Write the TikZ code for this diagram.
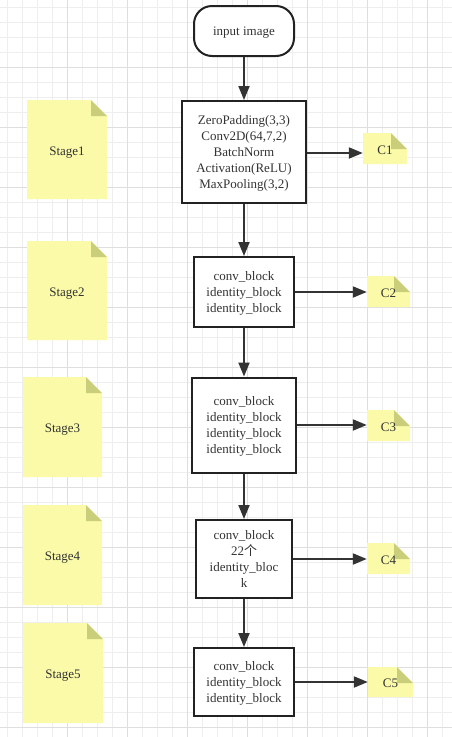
\documentclass[tikz,border=0pt]{standalone}
\usepackage{fontspec}
\setmainfont{Liberation Serif}
\newfontfamily\cjk{Noto Sans CJK SC}
\usetikzlibrary{arrows.meta}

\definecolor{notefill}{RGB}{250,250,168}
\definecolor{notefold}{RGB}{202,206,122}
\definecolor{inkgray}{RGB}{51,51,51}
\definecolor{boxline}{RGB}{34,34,34}
\definecolor{gridminor}{RGB}{238,238,238}
\definecolor{gridmajor}{RGB}{222,222,222}

\tikzset{
  block/.style={draw=boxline,line width=2pt,fill=white,align=center,inner sep=0pt,
    text depth=-3pt,text=inkgray,font=\fontsize{13}{16}\selectfont},
  note/.style={inner sep=0pt,text height=11pt,text depth=0pt,text=inkgray,font=\fontsize{13}{16}\selectfont,
    path picture={
      \fill[notefill] (path picture bounding box.south west) -- (path picture bounding box.north west)
        -- ([xshift=-16pt]path picture bounding box.north east) -- ([yshift=-16pt]path picture bounding box.north east)
        -- (path picture bounding box.south east) -- cycle;
      \fill[notefold] ([xshift=-16pt]path picture bounding box.north east)
        -- ([xshift=-16pt,yshift=-16pt]path picture bounding box.north east)
        -- ([yshift=-16pt]path picture bounding box.north east) -- cycle;
    }},
  flow/.style={draw=inkgray,line width=2pt,-{Triangle[length=14pt,width=11pt]}},
}

\begin{document}
\begin{tikzpicture}[x=1pt,y=-1pt]
\useasboundingbox (0,0) rectangle (452,737);
\fill[white] (0,0) rectangle (452,737);

%---------------------------------------------------
%background grid
\foreach \i in {7,22,...,452} \draw[gridminor,line width=0.8pt] (\i,0) -- (\i,737);
\foreach \j in {7,22,...,737} \draw[gridminor,line width=0.8pt] (0,\j) -- (452,\j);
\foreach \i in {67,127,...,452} \draw[gridmajor,line width=0.8pt] (\i,0) -- (\i,737);
\foreach \j in {67,127,...,737} \draw[gridmajor,line width=0.8pt] (0,\j) -- (452,\j);

%---------------------------------------------------
%main column
\node[block,rounded corners=18pt,minimum width=100pt,minimum height=50pt] (input) at (244,31) {input image};
\node[block,minimum width=124pt,minimum height=102pt] (b1) at (244,152)
  {ZeroPadding(3,3)\\Conv2D(64,7,2)\\BatchNorm\\Activation(ReLU)\\MaxPooling(3,2)};
\node[block,minimum width=100pt,minimum height=70pt] (b2) at (244,292)
  {conv\_block\\identity\_block\\identity\_block};
\node[block,minimum width=104pt,minimum height=95pt] (b3) at (244,425)
  {conv\_block\\identity\_block\\identity\_block\\identity\_block};
\node[block,minimum width=96pt,minimum height=78pt] (b4) at (244,559)
  {conv\_block\\22{\cjk 个}\\identity\_bloc\\k};
\node[block,minimum width=100pt,minimum height=68pt] (b5) at (244,682)
  {conv\_block\\identity\_block\\identity\_block};

%vertical arrows
\draw[flow] (input) -- (b1);
\draw[flow] (b1) -- (b2);
\draw[flow] (b2) -- (b3);
\draw[flow] (b3) -- (b4);
\draw[flow] (b4) -- (b5);

%---------------------------------------------------
%outputs
\node[note,minimum width=44pt,minimum height=31pt] (c1) at (385,148.5) {C1};
\node[note,minimum width=43pt,minimum height=31pt] (c2) at (388.5,291.5) {C2};
\node[note,minimum width=43pt,minimum height=31pt] (c3) at (388.5,425.5) {C3};
\node[note,minimum width=43pt,minimum height=31pt] (c4) at (388.5,558.5) {C4};
\node[note,minimum width=45pt,minimum height=30pt] (c5) at (390.5,682) {C5};

%horizontal arrows
\draw[flow] ([yshift=-1pt]b1.east) -- ([yshift=-1pt]b1.east -| c1.west);
\draw[flow] (b2.east) -- (b2.east -| c2.west);
\draw[flow] (b3.east) -- (b3.east -| c3.west);
\draw[flow] (b4.east) -- (b4.east -| c4.west);
\draw[flow] (b5.east) -- (b5.east -| c5.west);

%---------------------------------------------------
%stage labels
\node[note,minimum width=80pt,minimum height=99pt] (s1) at (67,149.5) {Stage1};
\node[note,minimum width=80pt,minimum height=99pt] (s2) at (67,290.5) {Stage2};
\node[note,minimum width=79pt,minimum height=100pt] (s3) at (62.5,427) {Stage3};
\node[note,minimum width=79pt,minimum height=100pt] (s4) at (62.5,555) {Stage4};
\node[note,minimum width=80pt,minimum height=100pt] (s5) at (63,673) {Stage5};

\end{tikzpicture}
\end{document}
